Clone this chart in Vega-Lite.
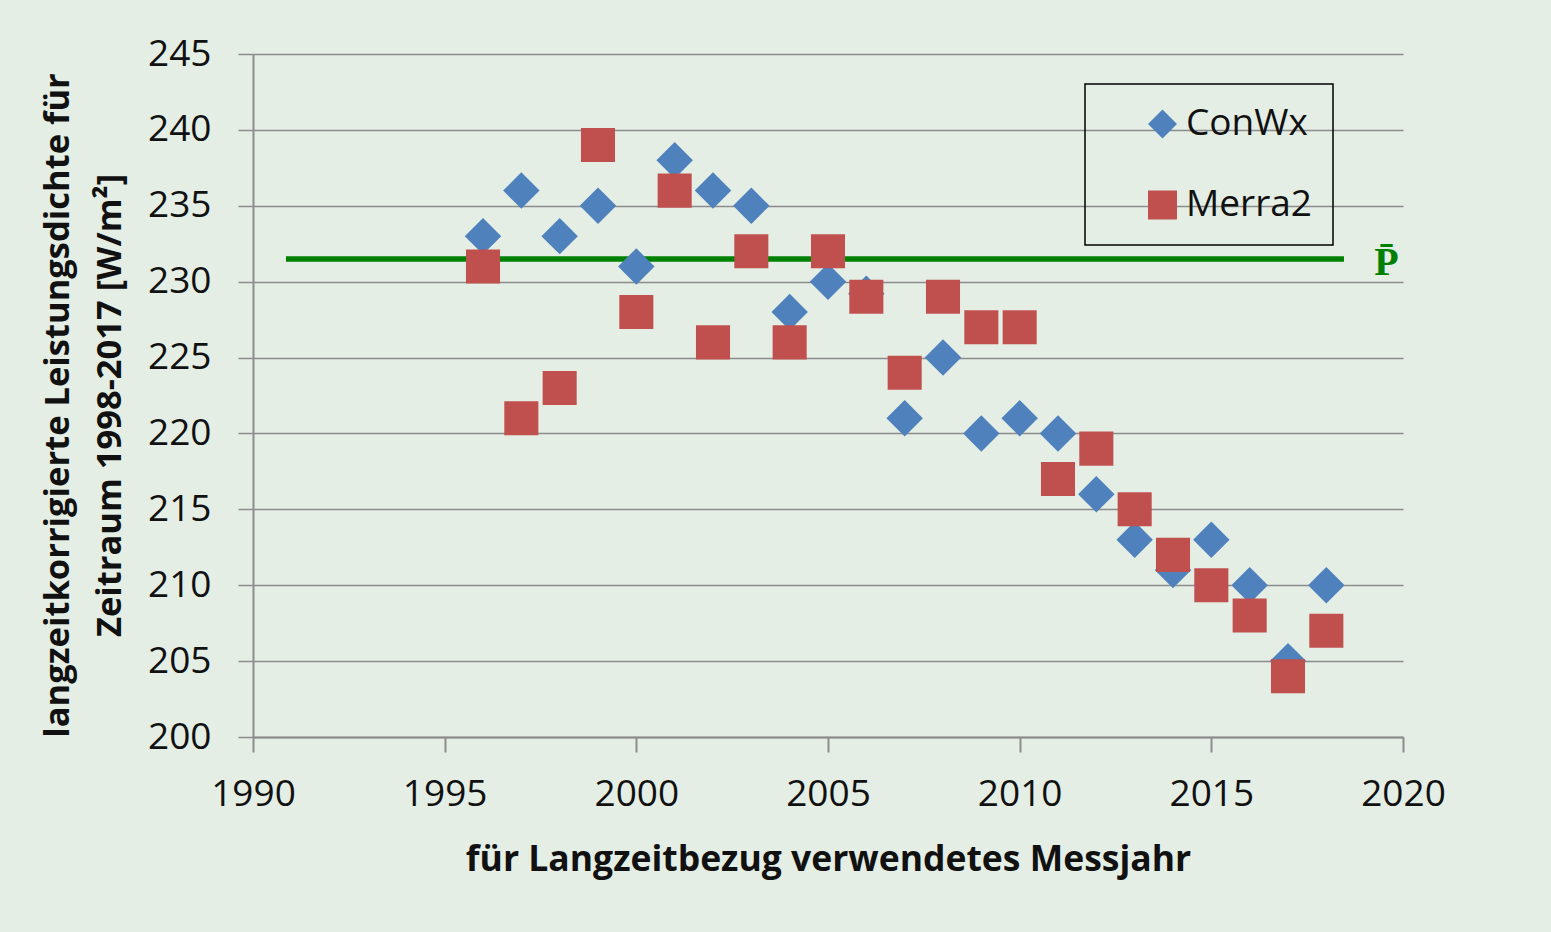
{
  "$schema": "https://vega.github.io/schema/vega-lite/v6.json",
  "width": 1150,
  "height": 683,
  "autosize": "none",
  "padding": {"left": 253, "top": 54, "right": 148, "bottom": 195},
  "background": "#e4eee5",
  "config": {
    "view": {"stroke": null},
    "font": "Open Sans",
    "axisX": {
      "grid": false,
      "domainColor": "#8c8c8c",
      "domainWidth": 2,
      "tickColor": "#8c8c8c",
      "tickWidth": 2,
      "tickSize": 15,
      "labelFlush": false,
      "labelFont": "Open Sans",
      "labelFontSize": 37,
      "labelColor": "#111111",
      "labelPadding": 24,
      "titleFont": "Open Sans",
      "titleFontSize": 35.5,
      "titleFontWeight": "bold",
      "titleColor": "#111111",
      "titlePadding": 30
    },
    "axisY": {
      "grid": true,
      "gridColor": "#8c8c8c",
      "gridWidth": 1.5,
      "domainColor": "#8c8c8c",
      "domainWidth": 2,
      "tickColor": "#8c8c8c",
      "tickWidth": 1.5,
      "tickSize": 15,
      "labelFont": "Open Sans",
      "labelFontSize": 37,
      "labelColor": "#111111",
      "labelPadding": 27,
      "titleFont": "Open Sans",
      "titleFontSize": 34.5,
      "titleFontWeight": "bold",
      "titleColor": "#111111",
      "titleAngle": -90,
      "titleX": -195,
      "titleY": 351,
      "titleAlign": "center",
      "titleBaseline": "middle",
      "titleLineHeight": 52
    },
    "legend": {
      "padding": 20,
      "strokeColor": "#000000",
      "strokeWidth": 1.5,
      "symbolSize": 840,
      "symbolOffset": 39,
      "labelOffset": 5,
      "labelFont": "Open Sans",
      "labelFontSize": 37,
      "labelColor": "#111111",
      "rowPadding": 41,
      "clipHeight": 40
    }
  },
  "datasets": {
    "points": [
      {"year": 1996, "series": "ConWx", "value": 233},
      {"year": 1997, "series": "ConWx", "value": 236},
      {"year": 1998, "series": "ConWx", "value": 233},
      {"year": 1999, "series": "ConWx", "value": 235},
      {"year": 2000, "series": "ConWx", "value": 231},
      {"year": 2001, "series": "ConWx", "value": 238},
      {"year": 2002, "series": "ConWx", "value": 236},
      {"year": 2003, "series": "ConWx", "value": 235},
      {"year": 2004, "series": "ConWx", "value": 228},
      {"year": 2005, "series": "ConWx", "value": 230},
      {"year": 2006, "series": "ConWx", "value": 229.2},
      {"year": 2007, "series": "ConWx", "value": 221},
      {"year": 2008, "series": "ConWx", "value": 225},
      {"year": 2009, "series": "ConWx", "value": 220},
      {"year": 2010, "series": "ConWx", "value": 221},
      {"year": 2011, "series": "ConWx", "value": 220},
      {"year": 2012, "series": "ConWx", "value": 216},
      {"year": 2013, "series": "ConWx", "value": 213},
      {"year": 2014, "series": "ConWx", "value": 211},
      {"year": 2015, "series": "ConWx", "value": 213},
      {"year": 2016, "series": "ConWx", "value": 210},
      {"year": 2017, "series": "ConWx", "value": 205},
      {"year": 2018, "series": "ConWx", "value": 210},
      {"year": 1996, "series": "Merra2", "value": 231},
      {"year": 1997, "series": "Merra2", "value": 221},
      {"year": 1998, "series": "Merra2", "value": 223},
      {"year": 1999, "series": "Merra2", "value": 239},
      {"year": 2000, "series": "Merra2", "value": 228},
      {"year": 2001, "series": "Merra2", "value": 236},
      {"year": 2002, "series": "Merra2", "value": 226},
      {"year": 2003, "series": "Merra2", "value": 232},
      {"year": 2004, "series": "Merra2", "value": 226},
      {"year": 2005, "series": "Merra2", "value": 232},
      {"year": 2006, "series": "Merra2", "value": 229},
      {"year": 2007, "series": "Merra2", "value": 224},
      {"year": 2008, "series": "Merra2", "value": 229},
      {"year": 2009, "series": "Merra2", "value": 227},
      {"year": 2010, "series": "Merra2", "value": 227},
      {"year": 2011, "series": "Merra2", "value": 217},
      {"year": 2012, "series": "Merra2", "value": 219},
      {"year": 2013, "series": "Merra2", "value": 215},
      {"year": 2014, "series": "Merra2", "value": 212},
      {"year": 2015, "series": "Merra2", "value": 210},
      {"year": 2016, "series": "Merra2", "value": 208},
      {"year": 2017, "series": "Merra2", "value": 204},
      {"year": 2018, "series": "Merra2", "value": 207}
    ],
    "mean": [
      {"year": 1990.86, "year_end": 2018.46, "value": 231.5, "label_year": 2019.57, "label": "P\u0304"}
    ]
  },
  "layer": [
    {
      "data": {"name": "mean"},
      "mark": {"type": "rule", "color": "#008000", "strokeWidth": 5.5},
      "encoding": {
        "x": {"field": "year", "type": "quantitative", "title": "für Langzeitbezug verwendetes Messjahr",
              "scale": {"domain": [1990, 2020], "nice": false, "zero": false},
              "axis": {"values": [1990, 1995, 2000, 2005, 2010, 2015, 2020], "format": "d"}},
        "x2": {"field": "year_end"},
        "y": {"field": "value", "type": "quantitative", "title": ["langzeitkorrigierte Leistungsdichte für", "Zeitraum 1998-2017 [W/m²]"],
              "scale": {"domain": [200, 245], "nice": false, "zero": false},
              "axis": {"values": [200, 205, 210, 215, 220, 225, 230, 235, 240, 245]}}
      }
    },
    {
      "data": {"name": "points"},
      "transform": [{"filter": "datum.series === 'ConWx'"}],
      "mark": {"type": "point", "filled": true, "opacity": 1, "size": 1330},
      "encoding": {
        "x": {"field": "year", "type": "quantitative", "title": "für Langzeitbezug verwendetes Messjahr"},
        "y": {"field": "value", "type": "quantitative", "title": ["langzeitkorrigierte Leistungsdichte für", "Zeitraum 1998-2017 [W/m²]"]},
        "color": {"field": "series", "type": "nominal",
                  "scale": {"domain": ["ConWx", "Merra2"], "range": ["#4f81bd", "#c0504d"]},
                  "legend": {"orient": "none", "legendX": 832, "legendY": 30, "title": null, "labelExpr": "datum.label + '\u2003\u2009'"}},
        "shape": {"field": "series", "type": "nominal",
                  "scale": {"domain": ["ConWx", "Merra2"], "range": ["diamond", "square"]},
                  "legend": {"orient": "none", "legendX": 832, "legendY": 30, "title": null, "labelExpr": "datum.label + '\u2003\u2009'"}}
      }
    },
    {
      "data": {"name": "points"},
      "transform": [{"filter": "datum.series === 'Merra2'"}],
      "mark": {"type": "point", "filled": true, "opacity": 1, "size": 1160},
      "encoding": {
        "x": {"field": "year", "type": "quantitative", "title": "für Langzeitbezug verwendetes Messjahr"},
        "y": {"field": "value", "type": "quantitative", "title": ["langzeitkorrigierte Leistungsdichte für", "Zeitraum 1998-2017 [W/m²]"]},
        "color": {"field": "series", "type": "nominal",
                  "scale": {"domain": ["ConWx", "Merra2"], "range": ["#4f81bd", "#c0504d"]},
                  "legend": {"orient": "none", "legendX": 832, "legendY": 30, "title": null, "labelExpr": "datum.label + '\u2003\u2009'"}},
        "shape": {"field": "series", "type": "nominal",
                  "scale": {"domain": ["ConWx", "Merra2"], "range": ["diamond", "square"]},
                  "legend": {"orient": "none", "legendX": 832, "legendY": 30, "title": null, "labelExpr": "datum.label + '\u2003\u2009'"}}
      }
    },
    {
      "data": {"name": "mean"},
      "mark": {"type": "text", "font": "Liberation Serif", "fontWeight": "bold", "fontSize": 40, "color": "#008000", "baseline": "alphabetic", "align": "center", "dy": 16},
      "encoding": {
        "x": {"field": "label_year", "type": "quantitative", "title": "für Langzeitbezug verwendetes Messjahr"},
        "y": {"field": "value", "type": "quantitative", "title": ["langzeitkorrigierte Leistungsdichte für", "Zeitraum 1998-2017 [W/m²]"]},
        "text": {"field": "label"}
      }
    }
  ]
}
